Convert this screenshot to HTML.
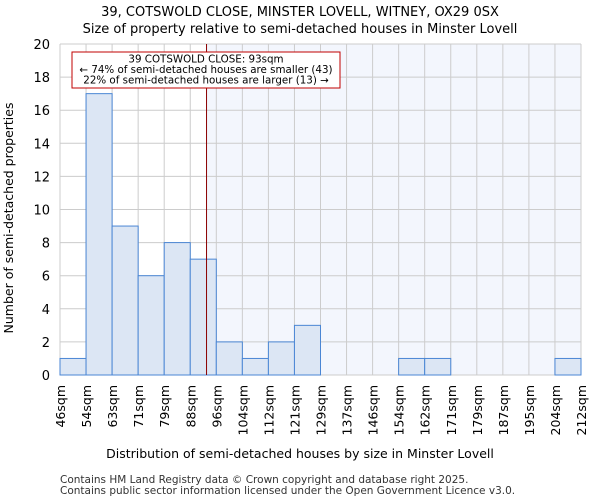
<!DOCTYPE html>
<html><head><meta charset="utf-8"><style>
body{margin:0;background:#fff;font-family:"DejaVu Sans","Liberation Sans",sans-serif}
</style></head><body>
<svg width="600" height="500" id="c" font-family="DejaVu Sans, Liberation Sans, sans-serif">
<text x="300" y="16" text-anchor="middle" font-size="13">39, COTSWOLD CLOSE, MINSTER LOVELL, WITNEY, OX29 0SX</text>
<text x="300" y="33" text-anchor="middle" font-size="13">Size of property relative to semi-detached houses in Minster Lovell</text>
<g id="plot"></g>
<text x="300" y="458" text-anchor="middle" font-size="12.5">Distribution of semi-detached houses by size in Minster Lovell</text>
<text transform="translate(13,218) rotate(-90)" text-anchor="middle" font-size="12.5">Number of semi-detached properties</text>
<text x="60" y="483" font-size="10.5" fill="#333">Contains HM Land Registry data © Crown copyright and database right 2025.</text>
<text x="60" y="494" font-size="10.5" fill="#333">Contains public sector information licensed under the Open Government Licence v3.0.</text>
</svg>
<script>
const binLabels=["46sqm","54sqm","63sqm","71sqm","79sqm","88sqm","96sqm","104sqm","112sqm","121sqm","129sqm","137sqm","146sqm","154sqm","162sqm","171sqm","179sqm","187sqm","195sqm","204sqm","212sqm"];
const counts=[1,17,9,6,8,7,2,1,2,3,0,0,0,1,1,0,0,0,0,1];
const yTicks=[0,2,4,6,8,10,12,14,16,18,20];
const marker=93;
const binEdges=[46,54,63,71,79,88,96,104,112,121,129,137,146,154,162,171,179,187,195,204,212];
const L=60,R=581,T=44,B=375,ymax=20;
const bw=(R-L)/counts.length;
const xs=i=>L+i*bw;
const y=v=>B-v/ymax*(B-T);
function xv(v){for(let i=0;i<binEdges.length-1;i++){if(v>=binEdges[i]&&v<=binEdges[i+1])return xs(i)+(v-binEdges[i])/(binEdges[i+1]-binEdges[i])*bw;}return R;}
const g=document.getElementById('plot');const NS="http://www.w3.org/2000/svg";
function mk(t,a,p){const e=document.createElementNS(NS,t);for(const k in a)e.setAttribute(k,a[k]);(p||g).appendChild(e);return e;}
const mx=xv(marker);
let e=mk('rect',{x:mx,y:T,width:R-mx,height:B-T,fill:'#f3f6fd'});


yTicks.forEach(t=>{let l=mk('line',{x1:L,x2:R,y1:y(t),y2:y(t),stroke:'#ccc','stroke-width':1});


let tx=mk('text',{x:L-10,y:y(t)+5,'text-anchor':'end','font-size':13});tx.textContent=t;

});
binLabels.forEach((s,i)=>{let l=mk('line',{x1:xs(i),x2:xs(i),y1:T,y2:B,stroke:'#ccc','stroke-width':1});


let tx=mk('text',{transform:`translate(${xs(i)+5},${B+10}) rotate(-90)`,'text-anchor':'end','font-size':12.5});tx.textContent=s;

});
counts.forEach((c,i)=>{if(!c)return;let r=mk('rect',{x:xs(i),y:y(c),width:bw,height:B-y(c),fill:'#dce6f4',stroke:'#4a86d4','stroke-width':1});

});
e=mk('line',{x1:mx,x2:mx,y1:T,y2:B,stroke:'#8b0000','stroke-width':1});


const ag=mk('g',{});


mk('rect',{x:72,y:52,width:268,height:36,fill:'#fff',stroke:'#c00000','stroke-width':1},ag);
["39 COTSWOLD CLOSE: 93sqm","← 74% of semi-detached houses are smaller (43)","22% of semi-detached houses are larger (13) →"].forEach((s,i)=>{let t=mk('text',{x:206,y:62.5+i*10.5,'text-anchor':'middle','font-size':10.3},ag);t.textContent=s;});
</script>
</body></html>
